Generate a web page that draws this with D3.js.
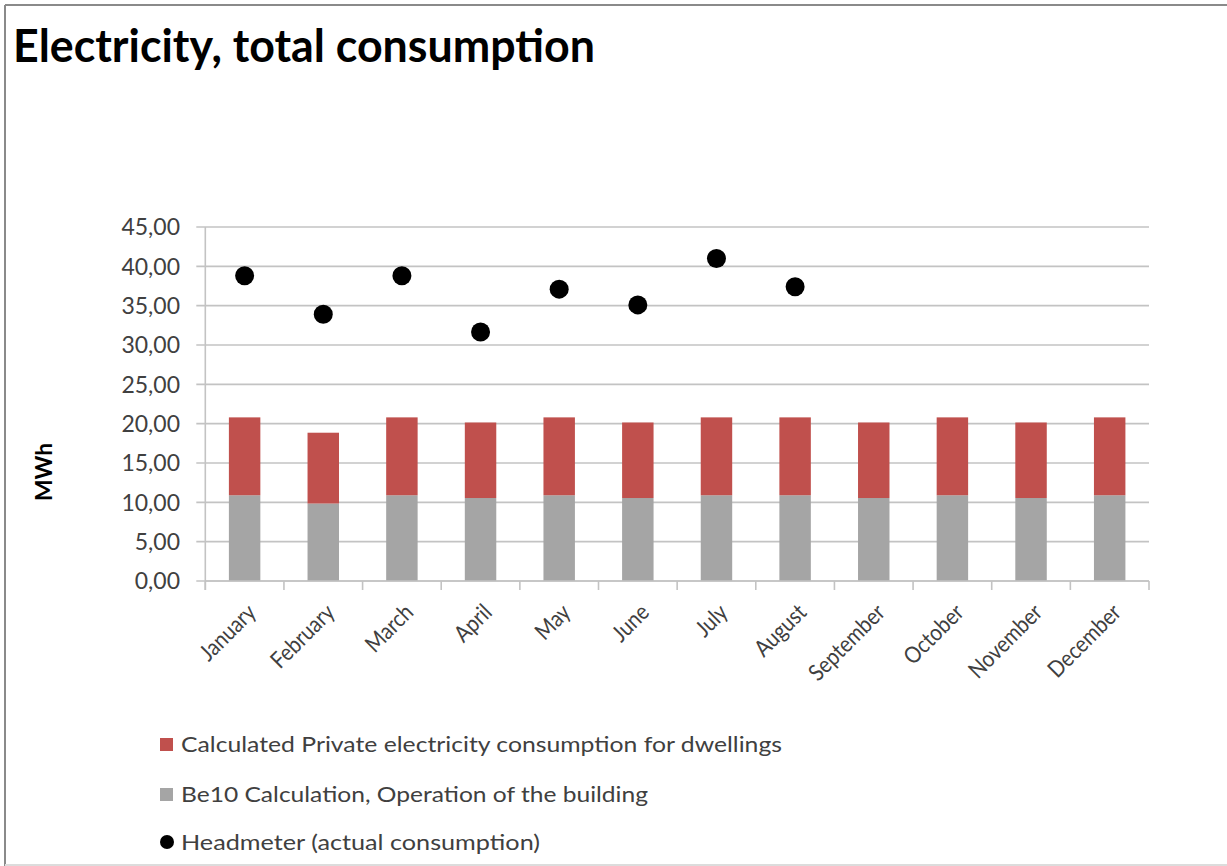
<!DOCTYPE html>
<html>
<head>
<meta charset="utf-8">
<script src="https://cdn.jsdelivr.net/npm/d3@7/dist/d3.min.js"></script>
<style>
  html, body { margin: 0; padding: 0; background: #fff; }
  svg { display: block; }
  text { font-family: Lato, "Open Sans", sans-serif; }
</style>
</head>
<body>
<svg id="chart" width="1227" height="866"></svg>
<script>
// Monthly electricity figures (MWh)
const months = ["January", "February", "March", "April", "May", "June",
                "July", "August", "September", "October", "November", "December"];
const buildingOperation = [10.9, 9.85, 10.9, 10.55, 10.9, 10.55, 10.9, 10.9, 10.55, 10.9, 10.55, 10.9];
const privateDwellings  = [9.9, 9.0, 9.9, 9.6, 9.9, 9.6, 9.9, 9.9, 9.6, 9.9, 9.6, 9.9];
const headmeter         = [38.8, 33.9, 38.8, 31.65, 37.1, 35.1, 41.0, 37.4, null, null, null, null];
const yTicks = [0, 5, 10, 15, 20, 25, 30, 35, 40, 45];
const seriesNames = [
  "Calculated Private electricity consumption for dwellings",
  "Be10 Calculation, Operation of the building",
  "Headmeter (actual consumption)"
];

const colors = { dwellings: "#c0504d", building: "#a5a5a5", meter: "#000000" };
const textColor = "#404040";
const gridColor = "#c3c3c3";

const svg = d3.select("#chart");

// Frame
svg.append("line").attr("x1", 5).attr("y1", 5).attr("x2", 1227).attr("y2", 5)
  .attr("stroke", "#8a8a8a").attr("stroke-width", 2);
svg.append("line").attr("x1", 5).attr("y1", 5).attr("x2", 5).attr("y2", 866)
  .attr("stroke", "#8a8a8a").attr("stroke-width", 2);
svg.append("line").attr("x1", 5).attr("y1", 865).attr("x2", 1227).attr("y2", 865)
  .attr("stroke", "#dcdcdc").attr("stroke-width", 2);

// Title
svg.append("text")
  .attr("x", 13).attr("y", 62)
  .attr("font-size", 46).attr("font-weight", 700).attr("fill", "#000")
  .attr("textLength", 582).attr("lengthAdjust", "spacingAndGlyphs")
  .text("Electricity, total consumption");

const plot = { left: 205.3, right: 1149, top: 227, bottom: 581 };

const x = d3.scaleBand().domain(months).range([plot.left, plot.right]).padding(0);
const y = d3.scaleLinear().domain([0, 45]).range([plot.bottom, plot.top]);
const barW = x.bandwidth() * 0.4;

// Gridlines and y ticks
const grid = svg.append("g");
grid.selectAll("line").data(yTicks).join("line")
  .attr("x1", plot.left - 9).attr("x2", plot.right)
  .attr("y1", d => y(d)).attr("y2", d => y(d))
  .attr("stroke", gridColor).attr("stroke-width", 1.6);

// Y axis line
svg.append("line")
  .attr("x1", plot.left).attr("x2", plot.left)
  .attr("y1", y(45)).attr("y2", y(0) + 9)
  .attr("stroke", gridColor).attr("stroke-width", 1.6);

// Y tick labels (comma decimal)
svg.append("g").selectAll("text").data(yTicks).join("text")
  .attr("x", 180).attr("y", d => y(d))
  .attr("dy", "0.36em")
  .attr("text-anchor", "end")
  .attr("font-size", 23).attr("fill", textColor)
  .text(d => d3.format(".2f")(d).replace(".", ","));

// Category tick marks on the x axis
const boundaries = months.map(m => x(m)).concat([plot.right]);
svg.append("g").selectAll("line").data(boundaries).join("line")
  .attr("x1", d => d).attr("x2", d => d)
  .attr("y1", y(0)).attr("y2", y(0) + 9)
  .attr("stroke", gridColor).attr("stroke-width", 1.6);

// Stacked bars
const bars = svg.append("g");
bars.selectAll("rect.building").data(months).join("rect")
  .attr("class", "building")
  .attr("x", m => x(m) + (x.bandwidth() - barW) / 2)
  .attr("width", barW)
  .attr("y", (m, i) => y(buildingOperation[i]))
  .attr("height", (m, i) => y(0) - y(buildingOperation[i]))
  .attr("fill", colors.building);
bars.selectAll("rect.dwellings").data(months).join("rect")
  .attr("class", "dwellings")
  .attr("x", m => x(m) + (x.bandwidth() - barW) / 2)
  .attr("width", barW)
  .attr("y", (m, i) => y(buildingOperation[i] + privateDwellings[i]))
  .attr("height", (m, i) => y(buildingOperation[i]) - y(buildingOperation[i] + privateDwellings[i]))
  .attr("fill", colors.dwellings);

// Redraw x axis baseline on top of bars
svg.append("line")
  .attr("x1", plot.left).attr("x2", plot.right)
  .attr("y1", y(0)).attr("y2", y(0))
  .attr("stroke", gridColor).attr("stroke-width", 1.6);

// Headmeter points
const pts = months.map((m, i) => ({ m, v: headmeter[i] })).filter(d => d.v != null);
svg.append("g").selectAll("circle").data(pts).join("circle")
  .attr("cx", d => x(d.m) + x.bandwidth() / 2)
  .attr("cy", d => y(d.v))
  .attr("r", 9.5)
  .attr("fill", colors.meter);

// Rotated month labels (slightly condensed)
svg.append("g").selectAll("text").data(months).join("text")
  .attr("transform", m => `translate(${x(m) + x.bandwidth() / 2 + 3},${y(0) + 23}) rotate(-45)`)
  .attr("text-anchor", "end")
  .attr("dy", "0.6em")
  .attr("font-size", 23).attr("fill", textColor)
  .text(m => m)
  .each(function () {
    const w = this.getComputedTextLength();
    d3.select(this).attr("textLength", w * 0.88).attr("lengthAdjust", "spacingAndGlyphs");
  });

// Y axis title
svg.append("text")
  .attr("transform", "translate(52,472) rotate(-90)")
  .attr("text-anchor", "middle")
  .attr("font-size", 23).attr("font-weight", 700).attr("fill", "#000")
  .attr("textLength", 58).attr("lengthAdjust", "spacingAndGlyphs")
  .text("MWh");

// Legend
const legend = svg.append("g");
const legendRows = [
  { name: seriesNames[0], color: colors.dwellings, shape: "rect", yb: 752, len: 601 },
  { name: seriesNames[1], color: colors.building, shape: "rect", yb: 802, len: 467 },
  { name: seriesNames[2], color: colors.meter, shape: "circle", yb: 850, len: 359 }
];
legendRows.forEach(r => {
  if (r.shape === "rect") {
    legend.append("rect").attr("x", 160).attr("y", r.yb - 14).attr("width", 13).attr("height", 13)
      .attr("fill", r.color);
  } else {
    legend.append("circle").attr("cx", 167).attr("cy", r.yb - 8).attr("r", 7).attr("fill", r.color);
  }
  legend.append("text").attr("x", 181).attr("y", r.yb)
    .attr("font-size", 21).attr("fill", textColor)
    .attr("textLength", r.len).attr("lengthAdjust", "spacingAndGlyphs")
    .text(r.name);
});
</script>
</body>
</html>
